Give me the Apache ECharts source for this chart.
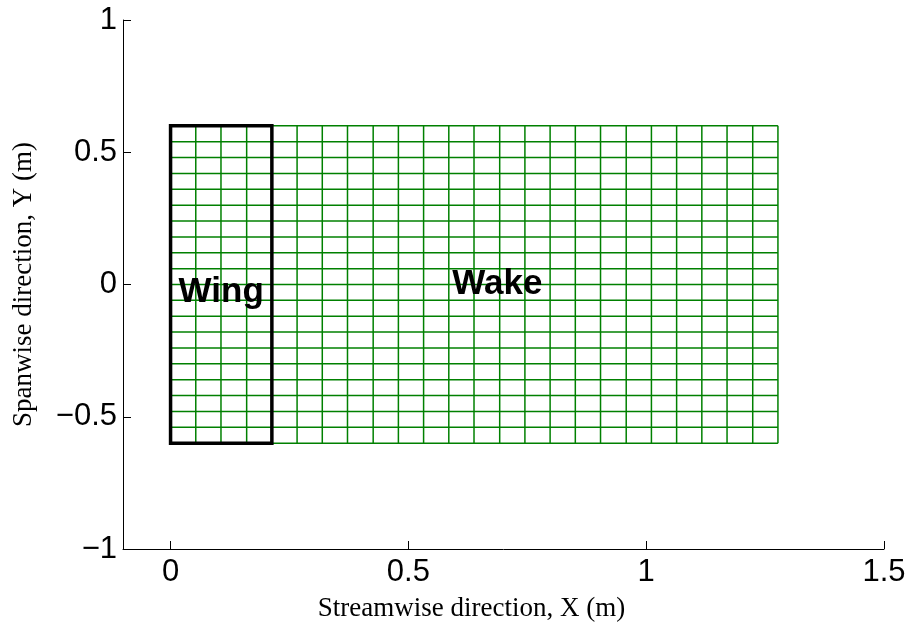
<!DOCTYPE html>
<html>
<head>
<meta charset="utf-8">
<script src="https://cdn.jsdelivr.net/npm/echarts@6/dist/echarts.min.js"></script>
<style>
  html, body { margin: 0; padding: 0; background: #fff; }
  #chart { width: 913px; height: 626px; }
</style>
</head>
<body>
<div id="chart"></div>
<script>
// Panel edges of the vortex-lattice mesh (m)
const xEdges = [0, 0.053, 0.106, 0.160, 0.213, 0.266, 0.319, 0.372, 0.426, 0.479,
                0.532, 0.585, 0.638, 0.692, 0.745, 0.798, 0.851, 0.904, 0.958,
                1.011, 1.064, 1.117, 1.170, 1.224, 1.277];
const yEdges = [-0.60, -0.54, -0.48, -0.42, -0.36, -0.30, -0.24, -0.18, -0.12, -0.06,
                0, 0.06, 0.12, 0.18, 0.24, 0.30, 0.36, 0.42, 0.48, 0.54, 0.60];
// Wing occupies the first chordwise panels
const wingChordPanels = 4;
const xTicks = [0, 0.5, 1, 1.5];
const yTicks = [-1, -0.5, 0, 0.5, 1];

const xMinEdge = xEdges[0], xMaxEdge = xEdges[xEdges.length - 1];
const yMinEdge = yEdges[0], yMaxEdge = yEdges[yEdges.length - 1];
const wingTE = xEdges[wingChordPanels];

// Mesh segments [x1, y1, x2, y2]: spanwise lines at each chordwise edge,
// chordwise lines at each spanwise edge
const meshSegments = [];
xEdges.forEach(x => meshSegments.push([x, yMinEdge, x, yMaxEdge]));
yEdges.forEach(y => meshSegments.push([xMinEdge, y, xMaxEdge, y]));

// Wing planform outline (corner rectangle)
const wingBox = [[xMinEdge, yMinEdge, wingTE, yMaxEdge]];

const fmt = v => (v < 0 ? '\u2212' + String(-v) : String(v));
const sans = '"Liberation Sans", Arial, Helvetica, sans-serif';
const serif = '"Liberation Serif", "Times New Roman", Times, serif';

const chart = echarts.init(document.getElementById('chart'), null, { renderer: 'canvas' });
chart.setOption({
  animation: false,
  backgroundColor: '#ffffff',
  grid: { left: 123, right: 29, top: 20, bottom: 77, containLabel: false, outerBoundsMode: 'none' },
  xAxis: {
    type: 'value', min: -0.1, max: 1.5,
    name: 'Streamwise direction, X (m)',
    nameLocation: 'middle', nameGap: 46,
    nameTextStyle: { fontFamily: serif, fontSize: 27, color: '#000', padding: [0, 64, 0, 0] },
    axisLine: { show: true, onZero: false, lineStyle: { color: '#000', width: 1 } },
    axisTick: { show: true, inside: true, length: 8, customValues: xTicks, lineStyle: { color: '#000' } },
    axisLabel: { customValues: xTicks, formatter: fmt, fontFamily: sans, fontSize: 31, color: '#000', margin: 8 },
    splitLine: { show: false }
  },
  yAxis: {
    type: 'value', min: -1, max: 1, interval: 0.5,
    name: 'Spanwise direction, Y (m)',
    nameLocation: 'middle', nameGap: 86,
    nameTextStyle: { fontFamily: serif, fontSize: 27, color: '#000' },
    axisLine: { show: true, onZero: false, lineStyle: { color: '#000', width: 1 } },
    axisTick: { show: true, inside: true, length: 8, customValues: yTicks, lineStyle: { color: '#000' } },
    axisLabel: { customValues: yTicks, formatter: fmt, fontFamily: sans, fontSize: 31, color: '#000', margin: 6 },
    splitLine: { show: false }
  },
  series: [
    {
      name: 'Mesh', type: 'custom', silent: true, clip: false,
      data: meshSegments,
      encode: { x: [0, 2], y: [1, 3] },
      renderItem: (params, api) => {
        const p1 = api.coord([api.value(0), api.value(1)]);
        const p2 = api.coord([api.value(2), api.value(3)]);
        return {
          type: 'line',
          shape: { x1: p1[0], y1: p1[1], x2: p2[0], y2: p2[1] },
          style: { stroke: 'rgb(0,128,0)', lineWidth: 1.5, fill: null }
        };
      }
    },
    {
      name: 'Wing outline', type: 'custom', silent: true, clip: false,
      data: wingBox,
      encode: { x: [0, 2], y: [1, 3] },
      renderItem: (params, api) => {
        const a = api.coord([api.value(0), api.value(1)]);
        const b = api.coord([api.value(2), api.value(3)]);
        const x0 = Math.min(a[0], b[0]), x1 = Math.max(a[0], b[0]);
        const y0 = Math.min(a[1], b[1]), y1 = Math.max(a[1], b[1]);
        return {
          type: 'rect',
          shape: { x: x0, y: y0, width: x1 - x0, height: y1 - y0 },
          style: { stroke: '#000', lineWidth: 3.5, fill: null, lineJoin: 'miter' }
        };
      }
    },
    {
      name: 'Labels', type: 'scatter', symbolSize: 0, silent: true,
      itemStyle: { color: '#000', opacity: 1 },
      data: [
        { name: 'Wing', value: [(xMinEdge + wingTE) / 2, -0.03] },
        { name: 'Wake', value: [0.687, 0.0] }
      ],
      label: {
        show: true, position: 'inside', formatter: p => p.name,
        fontFamily: sans, fontSize: 35, fontWeight: 'bold', color: '#000',
        textBorderWidth: 0, textShadowBlur: 0
      }
    }
  ]
});
</script>
</body>
</html>
